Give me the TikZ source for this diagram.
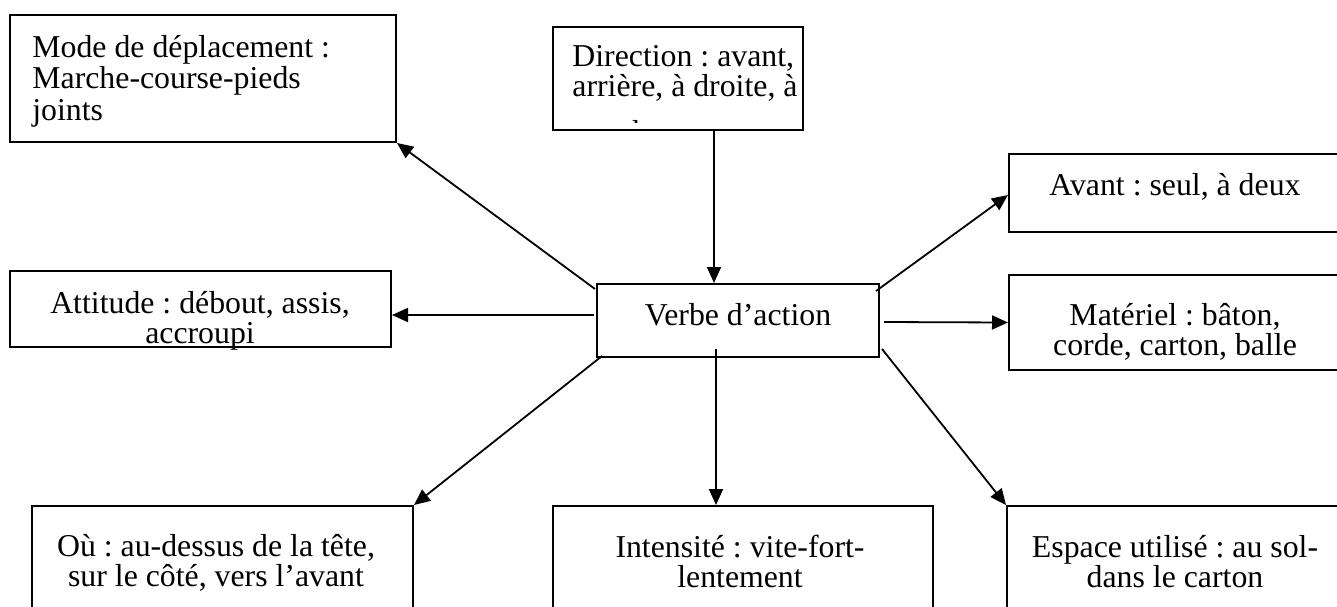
\documentclass[tikz,border=0pt]{standalone}
\usepackage{fontspec}
\setmainfont{Liberation Serif}
\usetikzlibrary{arrows.meta,fit,calc}
\frenchspacing
\newcommand{\topstrut}{\rule{0pt}{15.75pt}}
\newcommand{\boxfont}{\fontsize{15.9pt}{15pt}\selectfont\frenchspacing\setlength{\lineskiplimit}{-8pt}}
\newcommand{\modefont}{\fontsize{15.9pt}{15.75pt}\selectfont\frenchspacing\setlength{\lineskiplimit}{-8pt}}
\begin{document}
\begin{tikzpicture}[x=0.5pt,y=-0.5pt,
  box/.style={draw,line width=1pt,inner sep=0pt},
  txt/.style={inner sep=0pt,align=center,anchor=north,font=\boxfont},
  txtl/.style={txt,align=left,anchor=north west},
  arr/.style={line width=0.9pt,-{Triangle[length=8pt,width=7pt]}}]
\useasboundingbox (0,0) rectangle (1337,606);
\clip (0,0) rectangle (1337,606);
% boxes
\node[box,fit={(10,15)(396,142)}] (mode) {};
\node[box,fit={(553,27)(803,130)}] (dir) {};
\node[box,fit={(597,284)(879,357)}] (center) {};
\node[box,fit={(10,271)(391,347)}] (attitude) {};
\node[box,fit={(1009,154)(1341,232)}] (avant) {};
\node[box,fit={(1009,275)(1341,370)}] (materiel) {};
\node[box,fit={(32,506)(413,650)}] (ou) {};
\node[box,fit={(553,506)(933,650)}] (intens) {};
\node[box,fit={(1007,506)(1341,650)}] (espace) {};
% texts
\begin{scope}
\clip (10,15) rectangle (396,130);
\node[txtl,font=\modefont] (modet) at (32,25.5) {\topstrut Mode de déplacement :\\Marche-course-pieds\\joints};
\end{scope}
\begin{scope}
\clip (553,27) rectangle (801,122);
\node[txtl] (dirt) at (572,34.5) {\topstrut Direction : avant,\\arrière, à droite, à\\[8pt]gauche};
\end{scope}
\node[txt] (centert) at (738,293.5) {\topstrut Verbe d’action};
\node[txt] (attitudet) at (200,281.5) {\topstrut Attitude : débout, assis,\\accroupi};
\node[txt] (avantt) at (1175,163.5) {\topstrut Avant : seul, à deux};
\node[txt] (materielt) at (1175,293.5) {\topstrut Matériel : bâton,\\corde, carton, balle};
\node[txt] (out) at (216,524.5) {\topstrut Où : au-dessus de la tête,\\sur le côté, vers l’avant};
\node[txt] (intenst) at (740,525.5) {\topstrut Intensité : vite-fort-\\lentement};
\node[txt] (espacet) at (1175,525.5) {\topstrut Espace utilisé : au sol-\\dans le carton};
% connectors
\draw[arr] ($(center.north west)+(-1,6)$) -- (mode.south east);
\draw[arr] ($(dir.south west)+(162,0)$) -- ($(center.north west)+(118,0)$);
\draw[arr] ($(center.north east)+(-4,8)$) -- ($(avant.west)+(0,2)$);
\draw[arr] ($(center.east)+(4,1.5)$) -- ($(materiel.west)+(0,0)$);
\draw[arr] ($(center.west)+(-2,-5.5)$) -- ($(attitude.east)+(0,6)$);
\draw[arr] ($(center.south west)+(6,-2)$) -- (ou.north east);
\draw[arr] ($(center.south west)+(120,-9)$) -- ($(intens.north west)+(164,0)$);
\draw[arr] ($(center.south east)+(2,-9)$) -- (espace.north west);
\end{tikzpicture}
\end{document}
